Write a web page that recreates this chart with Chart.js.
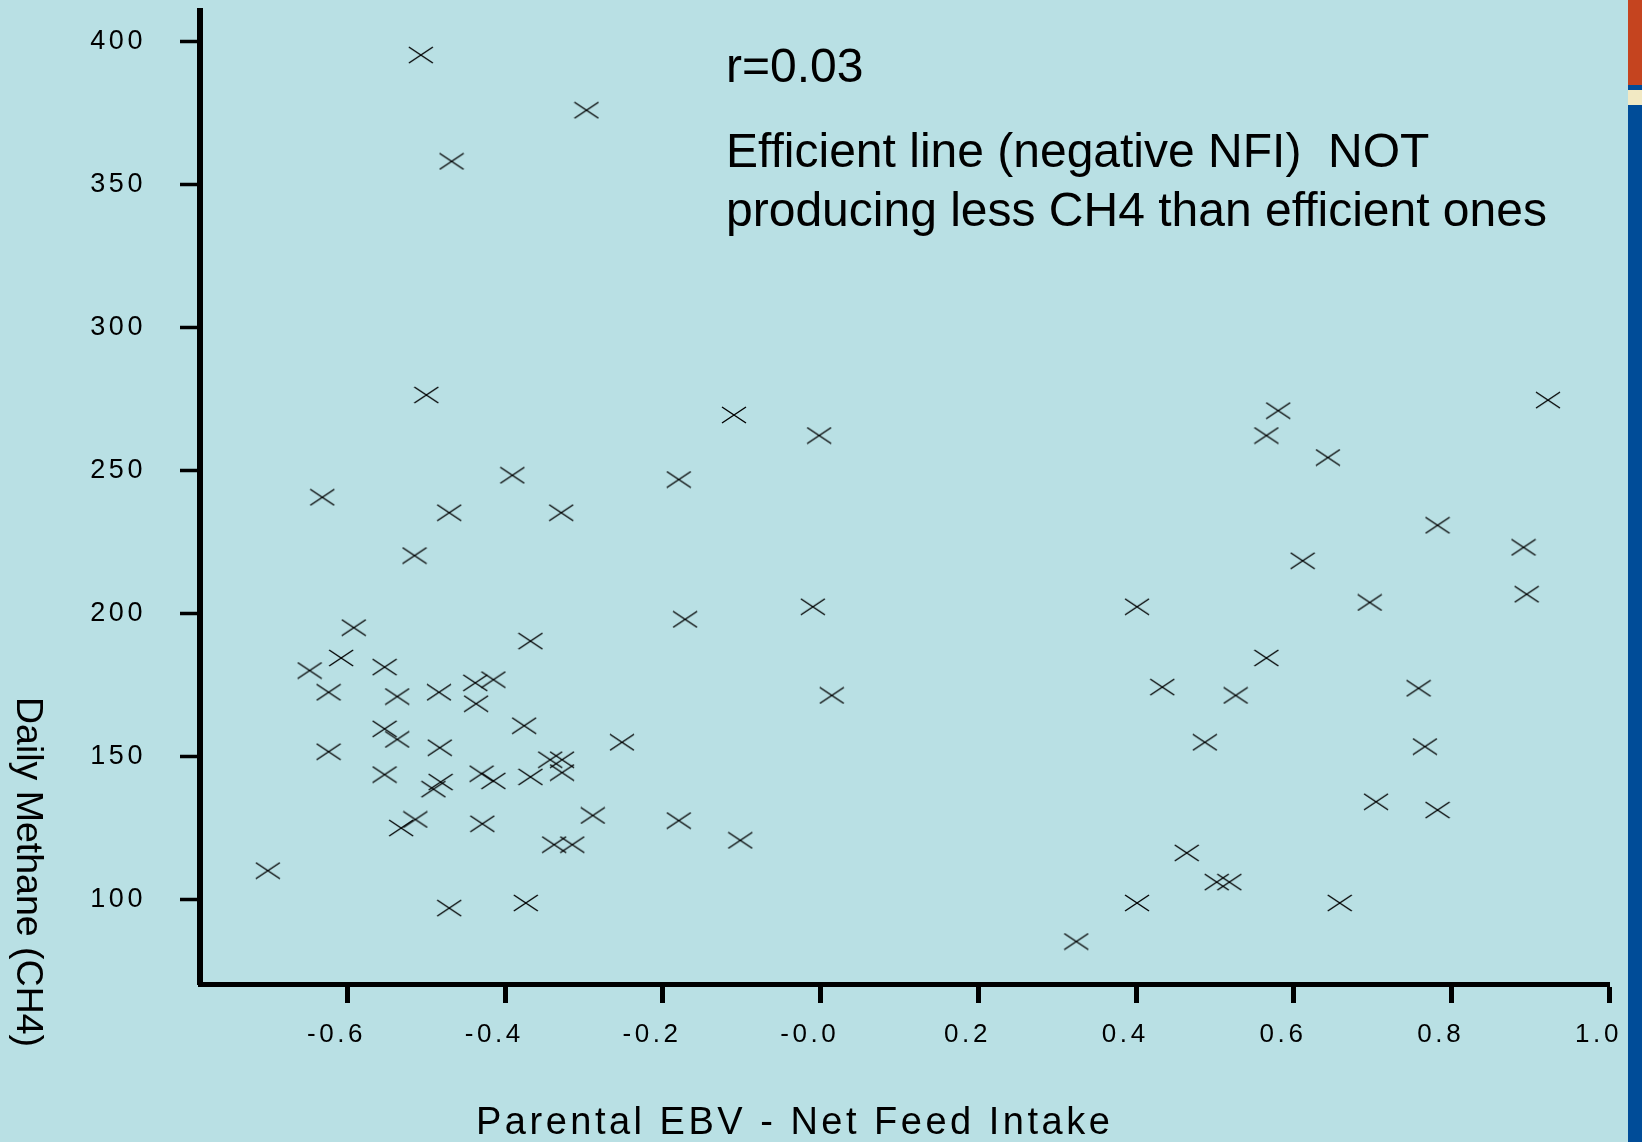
<!DOCTYPE html>
<html>
<head>
<meta charset="utf-8">
<script src="https://cdn.jsdelivr.net/npm/chart.js@4/dist/chart.umd.min.js"></script>
<style>
html,body{margin:0;padding:0;background:#B9E0E4;overflow:hidden;}
canvas{display:block;}
</style>
</head>
<body>
<canvas id="c" width="1642" height="1142"></canvas>
<script>
// ---- data ----
const xTickValues = [-0.6, -0.4, -0.2, 0.0, 0.2, 0.4, 0.6, 0.8, 1.0];
const xTickLabels = ["-0.6", "-0.4", "-0.2", "-0.0", "0.2", "0.4", "0.6", "0.8", "1.0"];
const yTickValues = [100, 150, 200, 250, 300, 350, 400];
const yTickLabels = ["100", "150", "200", "250", "300", "350", "400"];

const ebvNFI = [
  -0.507, -0.297, -0.468, -0.500, -0.632, -0.391, -0.471, -0.329, -0.515, -0.592,
  -0.608, -0.648, -0.624, -0.553, -0.537, -0.484, -0.438, -0.415, -0.437, -0.368,
  -0.553, -0.537, -0.483, -0.624, -0.553, -0.491, -0.482, -0.430, -0.415, -0.376,
  -0.368, -0.343, -0.328, -0.328, -0.532, -0.514, -0.429, -0.338, -0.315, -0.289,
  -0.252, -0.701, -0.471, -0.374, -0.180, -0.172, -0.180, -0.110, -0.102, -0.002,
  -0.010, 0.014, 0.324, 0.401, 0.401, 0.433, 0.464, 0.487, 0.502, 0.518,
  0.526, 0.565, 0.580, 0.565, 0.611, 0.643, 0.658, 0.696, 0.704, 0.758,
  0.766, 0.782, 0.782, 0.891, 0.895, 0.922
];
const dailyMethane = [
  395.4, 376.1, 358.2, 276.5, 240.7, 248.4, 235.3, 235.3, 220.3, 195.1,
  184.5, 180.1, 172.5, 181.3, 171.0, 172.5, 175.8, 176.9, 168.5, 190.4,
  159.7, 156.0, 153.1, 151.7, 143.7, 138.6, 141.1, 144.0, 141.5, 160.8,
  142.9, 148.9, 148.9, 144.4, 125.0, 128.0, 126.5, 119.2, 119.2, 129.4,
  155.0, 110.1, 97.0, 98.8, 246.9, 198.0, 127.6, 269.5, 120.7, 262.3,
  202.4, 171.4, 85.3, 202.4, 98.8, 174.3, 116.3, 155.0, 106.1, 106.1,
  171.4, 262.3, 271.0, 184.5, 218.5, 254.6, 98.8, 203.9, 134.2, 173.9,
  153.5, 230.9, 131.3, 223.2, 206.8, 274.7
];

const annotationLines = ["r=0.03", "Efficient line (negative NFI)  NOT", "producing less CH4 than efficient ones"];
const xAxisTitle = "Parental EBV - Net Feed Intake";
const yAxisTitle = "Daily Methane (CH4)";

// ---- marker: flattened X ----
const cross = document.createElement('canvas');
cross.width = 26; cross.height = 18;
(function(){
  const cc = cross.getContext('2d');
  cc.strokeStyle = '#000';
  cc.lineWidth = 1.4;
  cc.beginPath();
  cc.moveTo(1, 1); cc.lineTo(25, 17);
  cc.moveTo(1, 17); cc.lineTo(25, 1);
  cc.stroke();
})();

const W = 1642, H = 1142;
const FONT = "'Liberation Sans', Arial, Helvetica, sans-serif";

const decor = {
  id: 'decor',
  beforeDraw(chart) {
    const c = chart.ctx;
    c.save();
    c.fillStyle = '#B9E0E4';
    c.fillRect(0, 0, W, H);
    // right-edge stripe
    c.fillStyle = '#004C98';
    c.fillRect(1628, 0, W - 1628, H);
    c.fillStyle = '#C5441F';
    c.fillRect(1628, 0, W - 1628, 85);
    c.fillStyle = '#F2E9C3';
    c.fillRect(1628, 90, W - 1628, 15);
    c.restore();
    c.letterSpacing = '3.6px';
  },
  afterDraw(chart) {
    const c = chart.ctx;
    c.save();
    c.letterSpacing = '0px';
    c.fillStyle = '#000';
    c.textAlign = 'left';
    c.textBaseline = 'alphabetic';
    c.font = "48px " + FONT;
    c.fillText(annotationLines[0], 726, 82);
    c.fillText(annotationLines[1], 726, 167);
    c.fillText(annotationLines[2], 726, 226);

    c.letterSpacing = '3.5px';
    c.font = "38px " + FONT;
    c.fillText(xAxisTitle, 476, 1134);

    c.letterSpacing = '0px';
    c.font = "37.5px " + FONT;
    c.translate(17, 872);
    c.rotate(Math.PI / 2);
    c.textAlign = 'center';
    c.fillText(yAxisTitle, 0, 0);
    c.restore();
  }
};

function zeroPad(s) {
  s.paddingLeft = 0; s.paddingRight = 0; s.paddingTop = 0; s.paddingBottom = 0;
}

new Chart(document.getElementById('c'), {
  type: 'scatter',
  data: {
    datasets: [{
      data: ebvNFI.map((x, i) => ({ x: x, y: dailyMethane[i] })),
      pointStyle: cross,
      pointRadius: 10,
      pointHoverRadius: 10,
      showLine: false
    }]
  },
  options: {
    responsive: false,
    animation: false,
    events: [],
    layout: { padding: { left: 0, top: 7.5, right: 32.5, bottom: 0 } },
    plugins: { legend: { display: false }, tooltip: { enabled: false }, title: { display: false } },
    scales: {
      x: {
        type: 'linear',
        min: -0.787,
        max: 1.0,
        afterBuildTicks: s => { s.ticks = xTickValues.map(v => ({ value: v })); },
        afterFit: s => { s.height = 158; zeroPad(s); },
        grid: { display: true, drawOnChartArea: false, drawTicks: true, tickLength: 19, tickWidth: 5, tickColor: '#000' },
        border: { display: true, color: '#000', width: 5 },
        ticks: {
          callback: v => xTickLabels[xTickValues.indexOf(v)],
          font: { family: FONT, size: 26 },
          color: '#000',
          padding: 16,
          labelOffset: -11,
          maxRotation: 0,
          minRotation: 0,
          autoSkip: false
        }
      },
      y: {
        type: 'linear',
        min: 70.45,
        max: 410.8,
        afterBuildTicks: s => { s.ticks = yTickValues.map(v => ({ value: v })); },
        afterFit: s => { s.width = 200; zeroPad(s); },
        grid: { display: true, drawOnChartArea: false, drawTicks: true, tickLength: 20, tickWidth: 3.5, tickColor: '#000' },
        border: { display: true, color: '#000', width: 6 },
        ticks: {
          callback: v => yTickLabels[yTickValues.indexOf(v)],
          font: { family: FONT, size: 27 },
          color: '#000',
          padding: 34,
          labelOffset: 0,
          autoSkip: false
        }
      }
    }
  },
  plugins: [decor]
});
</script>
</body>
</html>
